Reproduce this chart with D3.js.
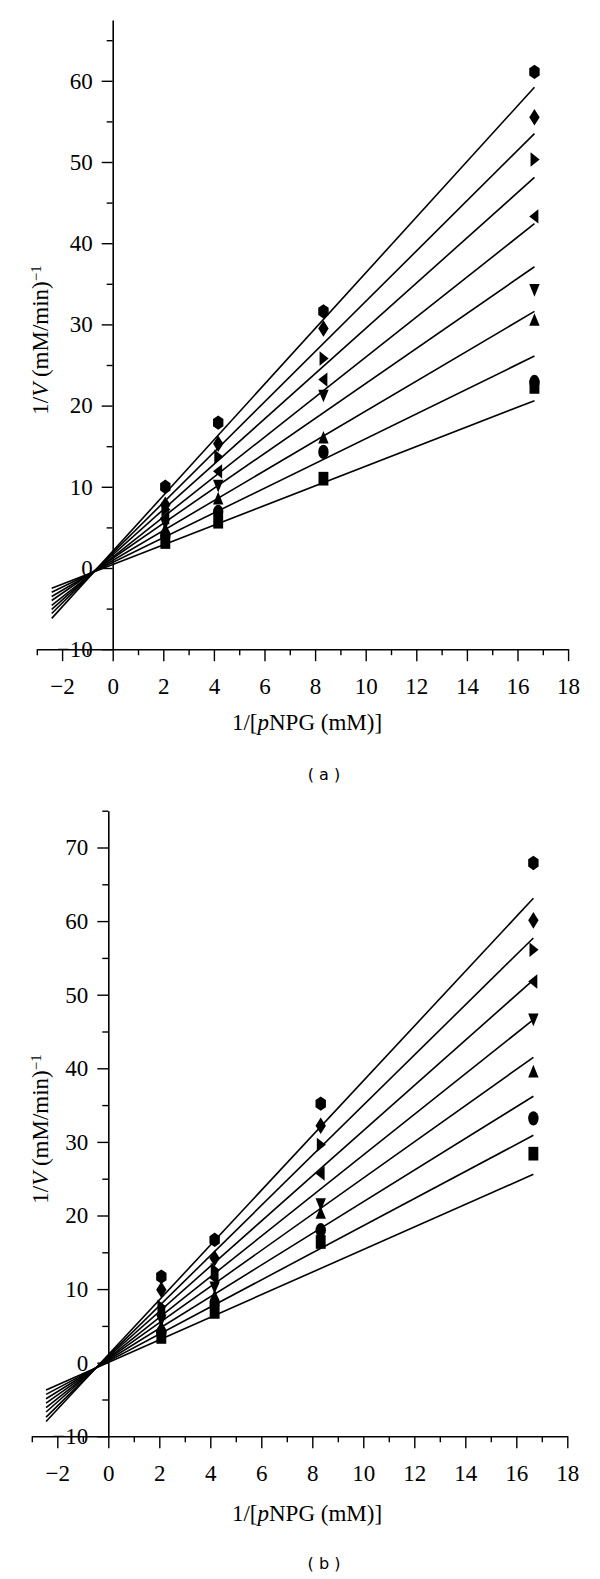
<!DOCTYPE html>
<meta charset="utf-8">
<style>
body { margin: 0; background: #fff; }
text { font-family: "Liberation Serif", "Times New Roman", serif; fill: #000; }
.tag { font-family: "DejaVu Sans", Arial, sans-serif; font-size: 16px; }
</style>
<svg width="600" height="1579"></svg>
<script src="https://d3js.org/d3.v7.min.js"></script>
<script>

// 1/[pNPG] values where points were measured
var xPoints = [2.08, 4.17, 8.33, 16.67];

var shapes = ["square", "circle", "triangleUp", "triangleDown", "triangleLeft", "triangleRight", "diamond", "hexagon"];

// panel (a) measured points, one array per marker shape
var aSquare   = [3.2, 5.7, 11.0, 22.3];
var aCircle   = [4.0, 6.9, 14.3, 22.9];
var aUp       = [4.8, 8.5, 16.0, 30.5];
var aDown     = [5.5, 10.2, 21.3, 34.3];
var aLeft     = [6.2, 11.9, 23.2, 43.3];
var aRight    = [7.2, 13.7, 25.8, 50.3];
var aDiamond  = [7.8, 15.3, 29.5, 55.5];
var aHexagon  = [10.0, 17.9, 31.6, 61.1];
// panel (a) fitted lines
var aSlopes     = [1.211, 1.525, 1.840, 2.154, 2.463, 2.788, 3.097, 3.428];
var aIntercepts = [0.42, 0.68, 0.93, 1.19, 1.34, 1.62, 1.86, 2.06];
var aFitRange   = [-2.41, 16.67];

// panel (b)
var bSquare   = [3.5, 6.9, 16.4, 28.4];
var bCircle   = [4.1, 8.1, 18.0, 33.2];
var bUp       = [4.9, 9.0, 20.3, 39.5];
var bDown     = [5.8, 10.3, 21.6, 46.7];
var bLeft     = [6.7, 11.5, 25.7, 51.8];
var bRight    = [7.6, 12.6, 29.6, 56.1];
var bDiamond  = [9.9, 14.2, 32.2, 60.1];
var bHexagon  = [11.7, 16.7, 35.2, 67.9];
var bSlopes     = [1.533, 1.842, 2.151, 2.459, 2.758, 3.072, 3.407, 3.721];
var bIntercepts = [0.04, 0.19, 0.35, 0.50, 0.63, 0.80, 0.91, 1.08];
var bFitRange   = [-2.44, 16.67];

var xMajor = d3.range(-2, 19, 2);
var xMinor = d3.range(-3, 18, 2);

var serif = '"Liberation Serif", "Times New Roman", serif';
var svg = d3.select("svg");

function marker(name) {
  var rx = 5.2, ry = 7.2;
  var p;
  switch (name) {
    case "square": p = [[-rx*0.95,-ry*0.95],[rx*0.95,-ry*0.95],[rx*0.95,ry*0.95],[-rx*0.95,ry*0.95]]; break;
    case "triangleUp": p = [[0,-ry],[rx,ry*0.75],[-rx,ry*0.75]]; break;
    case "triangleDown": p = [[0,ry],[rx,-ry*0.75],[-rx,-ry*0.75]]; break;
    case "triangleLeft": p = [[-rx,0],[rx*0.75,-ry],[rx*0.75,ry]]; break;
    case "triangleRight": p = [[rx,0],[-rx*0.75,-ry],[-rx*0.75,ry]]; break;
    case "diamond": p = [[0,-ry*1.15],[rx,0],[0,ry*1.15],[-rx,0]]; break;
    case "hexagon": p = [[0,-ry],[rx,-ry/2],[rx,ry/2],[0,ry],[-rx,ry/2],[-rx,-ry/2]]; break;
    case "circle":
      return "M" + (-rx) + ",0A" + rx + "," + ry + " 0 1,1 " + rx + ",0A" + rx + "," + ry + " 0 1,1 " + (-rx) + ",0Z";
  }
  return "M" + p.map(function(d) { return d.join(","); }).join("L") + "Z";
}

function drawPanel(cfg) {
  var x = d3.scaleLinear().domain([-3, 18]).range(cfg.xRange);
  var y = d3.scaleLinear().domain(cfg.yDomain).range(cfg.yRange);
  var g = svg.append("g");

  // y axis (minor then major)
  g.append("g")
      .attr("transform", "translate(" + x(0) + ",0)")
      .call(d3.axisLeft(y).tickValues(cfg.yMinor).tickSize(6).tickSizeOuter(0).tickFormat(""))
      .call(function(s) { s.select(".domain").remove(); })
      .selectAll("line").attr("stroke-width", 1.4);
  var ya = g.append("g")
      .attr("transform", "translate(" + x(0) + ",0)")
      .attr("font-family", serif)
      .call(d3.axisLeft(y).tickValues(cfg.yMajor).tickSize(11).tickSizeOuter(0).tickPadding(9));
  ya.attr("font-family", serif).attr("font-size", 23);
  ya.selectAll("line").attr("stroke-width", 1.4);
  ya.select(".domain").attr("stroke-width", 1.6);
  ya.selectAll("text").style("font-family", serif).style("font-size", "23px");

  // x axis
  var xa = g.append("g")
      .attr("transform", "translate(0," + y(-10) + ")");
  xa.call(d3.axisBottom(x).tickValues(xMinor).tickSize(6).tickSizeOuter(0).tickFormat(""))
      .selectAll("line").attr("stroke-width", 1.4);
  xa.select(".domain").remove();
  var xb = g.append("g")
      .attr("transform", "translate(0," + y(-10) + ")")
      .call(d3.axisBottom(x).tickValues(xMajor).tickSize(12).tickSizeOuter(0).tickPadding(16));
  xb.attr("font-family", serif).attr("font-size", 23);
  xb.selectAll("line").attr("stroke-width", 1.4);
  xb.select(".domain").attr("stroke-width", 1.6);
  xb.selectAll("text").style("font-family", serif).style("font-size", "23px");

  // fitted lines
  var line = d3.line().x(function(d) { return x(d[0]); }).y(function(d) { return y(d[1]); });
  cfg.slopes.forEach(function(m, i) {
    var b = cfg.intercepts[i];
    g.append("path")
        .datum(cfg.fitRange.map(function(v) { return [v, m * v + b]; }))
        .attr("fill", "none")
        .attr("stroke", "#000")
        .attr("stroke-width", 1.6)
        .attr("d", line);
  });

  // measured points
  cfg.series.forEach(function(vals, i) {
    g.append("g").selectAll("path")
      .data(vals)
      .join("path")
        .attr("transform", function(d, j) { return "translate(" + x(xPoints[j]) + "," + y(d) + ")"; })
        .attr("d", marker(shapes[i]))
        .attr("fill", "#000");
  });

  // axis titles
  var yl = g.append("text")
      .attr("transform", "translate(" + cfg.yLabel[0] + "," + cfg.yLabel[1] + ") rotate(-90)")
      .attr("text-anchor", "middle")
      .style("font-size", "23px");
  yl.append("tspan").text("1/");
  yl.append("tspan").attr("font-style", "italic").text("V");
  yl.append("tspan").text(" (mM/min)");
  yl.append("tspan").attr("dy", "-0.5em").style("font-size", "15px").text("\u22121");

  var xl = g.append("text")
      .attr("x", 307)
      .attr("y", cfg.xLabelY)
      .attr("text-anchor", "middle")
      .style("font-size", "23px");
  xl.append("tspan").text("1/[");
  xl.append("tspan").attr("font-style", "italic").text("p");
  xl.append("tspan").text("NPG (mM)]");

  g.append("text")
      .attr("class", "tag")
      .attr("x", 324)
      .attr("y", cfg.tagY)
      .attr("text-anchor", "middle")
      .text(cfg.tag);
}

drawPanel({
  xRange: [36.8, 568.1],
  yDomain: [-10, 67.5],
  yRange: [649.2, 19.9],
  yMajor: d3.range(-10, 61, 10),
  yMinor: d3.range(-5, 66, 10),
  slopes: aSlopes,
  intercepts: aIntercepts,
  fitRange: aFitRange,
  series: [aSquare, aCircle, aUp, aDown, aLeft, aRight, aDiamond, aHexagon],
  yLabel: [48, 340],
  xLabelY: 730,
  tag: "( a )",
  tagY: 780
});

drawPanel({
  xRange: [31.8, 567.3],
  yDomain: [-10, 75],
  yRange: [1436.3, 810.7],
  yMajor: d3.range(-10, 71, 10),
  yMinor: d3.range(-5, 76, 10),
  slopes: bSlopes,
  intercepts: bIntercepts,
  fitRange: bFitRange,
  series: [bSquare, bCircle, bUp, bDown, bLeft, bRight, bDiamond, bHexagon],
  yLabel: [48, 1129],
  xLabelY: 1521,
  tag: "( b )",
  tagY: 1569
});

</script>
